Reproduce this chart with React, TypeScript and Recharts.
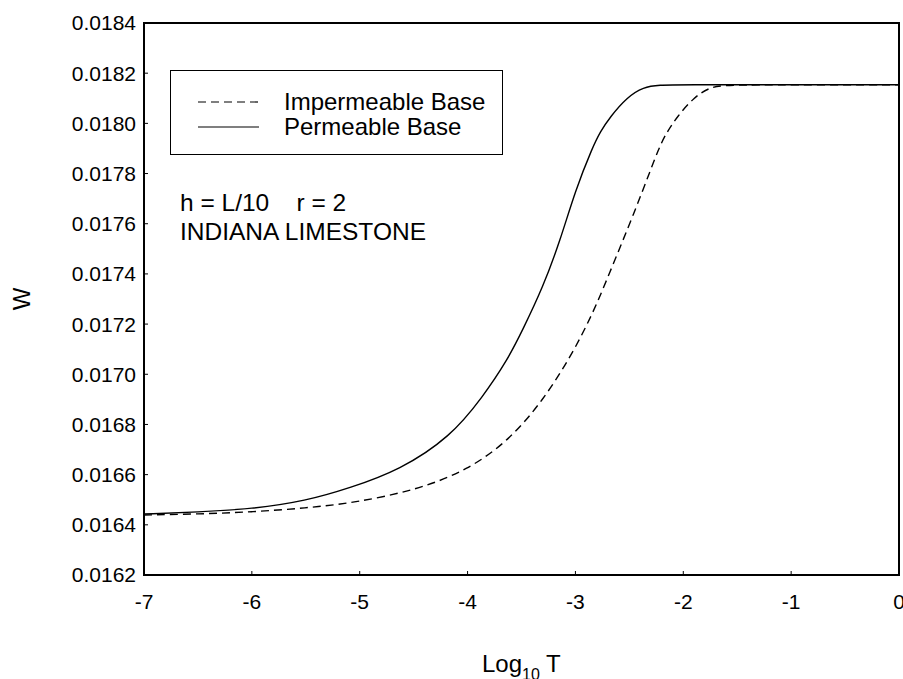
import React from 'react';
import { LineChart, Line, XAxis, YAxis, ReferenceArea } from 'recharts';

const xTicks = [-7, -6, -5, -4, -3, -2, -1, 0];
const yTicks = [0.0162, 0.0164, 0.0166, 0.0168, 0.017, 0.0172, 0.0174, 0.0176, 0.0178, 0.018, 0.0182, 0.0184];

const permeableLogT = [-7, -6.5, -6, -5.5, -5.09, -4.63, -4.16, -3.86, -3.63, -3.49, -3.3, -3.14, -3, -2.84, -2.77, -2.68, -2.52, -2.37, -2.22, -2.03, -1, 0];
const permeableW = [0.016443, 0.016451, 0.016463, 0.016495, 0.016547, 0.016618, 0.01675, 0.016909, 0.017057, 0.017176, 0.017348, 0.017535, 0.017734, 0.017906, 0.017966, 0.018025, 0.018105, 0.018145, 0.018153, 0.018154, 0.018154, 0.018154];

const impermeableLogT = [-7, -6.5, -6, -5.5, -5.06, -4.47, -4, -3.61, -3.3, -3.05, -2.84, -2.68, -2.52, -2.37, -2.22, -2.15, -2.06, -1.9, -1.75, -1.6, -1, 0];
const impermeableW = [0.016439, 0.016443, 0.016451, 0.016467, 0.016487, 0.016539, 0.016618, 0.016738, 0.016897, 0.017065, 0.01724, 0.017408, 0.017575, 0.017738, 0.01791, 0.017966, 0.018025, 0.018105, 0.018145, 0.018153, 0.018154, 0.018154];

const seriesNames = ['Impermeable Base', 'Permeable Base'];
const noteLine1 = 'h = L/10    r = 2';
const noteLine2 = 'INDIANA LIMESTONE';

const permeableData = permeableLogT.map((t, i) => ({ t, w: permeableW[i] }));
const impermeableData = impermeableLogT.map((t, i) => ({ t, w: impermeableW[i] }));

const FONT = 'Arial, "Liberation Sans", sans-serif';

export default function App() {
  return (
    <div style={{ position: 'absolute', left: 0, top: 0, width: 903, height: 679, background: '#fff', fontFamily: FONT, overflow: 'hidden' }}>
      <LineChart
        width={903}
        height={679}
        margin={{ top: 23, right: 4, bottom: 54, left: 44 }}
        style={{ overflow: 'visible' }}
      >
        <XAxis
          dataKey="t"
          type="number"
          domain={[-7, 0]}
          ticks={xTicks}
          allowDataOverflow
          height={50}
          axisLine={false}
          tickSize={-4}
          tickMargin={23}
          tickLine={{ stroke: '#000', strokeWidth: 1 }}
          tick={{ fill: '#000', fontSize: 21, fontFamily: FONT }}
          interval={0}
        />
        <YAxis
          dataKey="w"
          type="number"
          domain={[0.0162, 0.0184]}
          ticks={yTicks}
          allowDataOverflow
          width={100}
          axisLine={false}
          tickSize={-4}
          tickMargin={12}
          tickLine={{ stroke: '#000', strokeWidth: 1 }}
          tick={{ fill: '#000', fontSize: 21, fontFamily: FONT }}
          tickFormatter={(v: number) => v.toFixed(4)}
          interval={0}
        />
        <ReferenceArea x1={-7} x2={0} y1={0.0162} y2={0.0184} fill="none" stroke="#000" strokeWidth={2} ifOverflow="visible" />
        <Line data={permeableData} dataKey="w" type="basis" stroke="#000" strokeWidth={1.4} dot={false} isAnimationActive={false} />
        <Line data={impermeableData} dataKey="w" type="basis" stroke="#000" strokeWidth={1.4} strokeDasharray="8 5" dot={false} isAnimationActive={false} />
      </LineChart>

      {/* Legend */}
      <div style={{ position: 'absolute', left: 170, top: 70, width: 333, height: 85, boxSizing: 'border-box', border: '1px solid #000', background: '#fff' }}>
        <svg style={{ position: 'absolute', left: 26, top: 0 }} width={64} height={85}>
          <line x1={1} y1={31} x2={62} y2={31} stroke="#000" strokeWidth={1.2} strokeDasharray="8 5" />
          <line x1={1} y1={56} x2={62} y2={56} stroke="#000" strokeWidth={1.2} />
        </svg>
        <div style={{ position: 'absolute', left: 113, top: 19, fontSize: 24, lineHeight: '24px', whiteSpace: 'pre', color: '#000' }}>{seriesNames[0]}</div>
        <div style={{ position: 'absolute', left: 113, top: 44, fontSize: 24, lineHeight: '24px', whiteSpace: 'pre', color: '#000' }}>{seriesNames[1]}</div>
      </div>

      {/* Notes */}
      <div style={{ position: 'absolute', left: 180, top: 191, fontSize: 24.5, lineHeight: '24px', whiteSpace: 'pre', color: '#000' }}>{noteLine1}</div>
      <div style={{ position: 'absolute', left: 180, top: 220, fontSize: 24.5, lineHeight: '24px', whiteSpace: 'pre', color: '#000' }}>{noteLine2}</div>

      {/* Axis titles */}
      <div style={{ position: 'absolute', left: 482, top: 652, fontSize: 24, lineHeight: '24px', whiteSpace: 'pre', color: '#000' }}>
        Log<span style={{ fontSize: 16, position: 'relative', top: 8 }}>10</span> T
      </div>
      <div style={{ position: 'absolute', left: 22, top: 299, width: 0, height: 0 }}>
        <div style={{ position: 'absolute', left: -20, top: -12, width: 40, textAlign: 'center', fontSize: 24, lineHeight: '24px', color: '#000', transform: 'rotate(-90deg)' }}>W</div>
      </div>
    </div>
  );
}
